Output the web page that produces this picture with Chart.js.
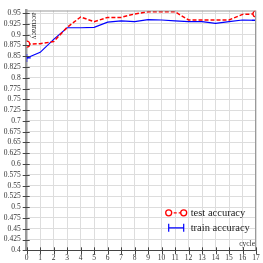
<!DOCTYPE html>
<html>
<head>
<meta charset="utf-8">
<script src="https://cdn.jsdelivr.net/npm/chart.js@4/dist/chart.umd.min.js"></script>
<style>
html, body { margin: 0; padding: 0; background: #fff; }
#wrap { width: 263px; height: 263px; }
</style>
</head>
<body>
<div id="wrap"><canvas id="graphAccuracy"></canvas></div>
<script>
const cycles = [0, 1, 2, 3, 4, 5, 6, 7, 8, 9, 10, 11, 12, 13, 14, 15, 16, 17];
const testAcc = [0.878, 0.879, 0.884, 0.917, 0.941, 0.930, 0.940, 0.940, 0.948, 0.953, 0.953, 0.953, 0.934, 0.934, 0.934, 0.934, 0.947, 0.948];
const trainAcc = [0.846, 0.859, 0.889, 0.916, 0.916, 0.917, 0.929, 0.932, 0.930, 0.935, 0.934, 0.932, 0.930, 0.930, 0.926, 0.930, 0.934, 0.933];
const yTicks = [0.4, 0.425, 0.45, 0.475, 0.5, 0.525, 0.55, 0.575, 0.6, 0.625, 0.65, 0.675, 0.7, 0.725, 0.75, 0.775, 0.8, 0.825, 0.85, 0.875, 0.9, 0.925, 0.95];
const seriesNames = ['test accuracy', 'train accuracy'];
const yTitle = 'accuracy';
const xTitle = 'cycle';

const serif = '"Liberation Serif", "DejaVu Serif", serif';

function toPoints(values) {
	return cycles.map((c, i) => ({ x: c, y: values[i] }));
}

function endsOnly(r) {
	return cycles.map((c, i) => (i == 0 || i == cycles.length - 1) ? r : 0);
}

// frame, crossing tick marks, axis titles and the legend inside the plot
const decorations = {
	id: 'decorations',
	afterDraw(chart) {
		const ctx = chart.ctx;
		const a = chart.chartArea;
		const xs = chart.scales.x;
		const ys = chart.scales.y;
		ctx.save();
		ctx.strokeStyle = '#999';
		ctx.lineWidth = 1;
		ctx.beginPath();
		ctx.moveTo(a.left, a.top + 0.5);
		ctx.lineTo(a.right - 0.5, a.top + 0.5);
		ctx.lineTo(a.right - 0.5, a.bottom);
		ctx.stroke();

		ctx.strokeStyle = '#444';
		ctx.lineWidth = 1;
		ctx.beginPath();
		for (let i = 0; i < yTicks.length; ++i) {
			const py = Math.round(ys.getPixelForValue(yTicks[i])) + 0.5;
			ctx.moveTo(a.left - 4, py);
			ctx.lineTo(a.left + 3, py);
		}
		for (let i = 0; i < cycles.length; ++i) {
			const px = Math.round(xs.getPixelForValue(cycles[i])) + 0.5;
			ctx.moveTo(px, a.bottom - 3);
			ctx.lineTo(px, a.bottom + 4);
		}
		ctx.stroke();

		ctx.fillStyle = '#333';
		ctx.font = '7.5px ' + serif;
		ctx.textAlign = 'right';
		ctx.textBaseline = 'bottom';
		ctx.fillText(xTitle, a.right - 1, a.bottom - 3);

		ctx.save();
		ctx.translate(a.left + 7, a.top + 2);
		ctx.rotate(Math.PI / 2);
		ctx.textAlign = 'left';
		ctx.textBaseline = 'middle';
		ctx.fillText(yTitle, 0, 0);
		ctx.restore();

		// legend
		const lx0 = a.left + 142, lx1 = a.left + 157;
		const rows = [a.bottom - 37.5, a.bottom - 22.5];
		ctx.font = '10.5px ' + serif;
		ctx.textAlign = 'left';
		ctx.textBaseline = 'middle';

		ctx.strokeStyle = 'red';
		ctx.lineWidth = 1.3;
		ctx.setLineDash([3, 2]);
		ctx.beginPath();
		ctx.moveTo(lx0, rows[0]);
		ctx.lineTo(lx1, rows[0]);
		ctx.stroke();
		ctx.setLineDash([]);
		ctx.fillStyle = '#fff';
		[lx0, lx1].forEach(px => {
			ctx.beginPath();
			ctx.arc(px, rows[0], 3, 0, Math.PI * 2);
			ctx.fill();
			ctx.stroke();
		});

		ctx.strokeStyle = 'blue';
		ctx.lineWidth = 1.2;
		ctx.beginPath();
		ctx.moveTo(lx0, rows[1]);
		ctx.lineTo(lx1, rows[1]);
		[lx0, lx1].forEach(px => {
			ctx.moveTo(px, rows[1] - 4);
			ctx.lineTo(px, rows[1] + 4);
		});
		ctx.stroke();

		ctx.fillStyle = '#222';
		ctx.fillText(seriesNames[0], lx1 + 7, rows[0]);
		ctx.fillText(seriesNames[1], lx1 + 7, rows[1]);
		ctx.restore();
	}
};

const chart = new Chart(document.getElementById('graphAccuracy'), {
	type: 'line',
	data: {
		datasets: [{
			label: seriesNames[0],
			data: toPoints(testAcc),
			borderColor: 'red',
			backgroundColor: '#fff',
			borderWidth: 1.5,
			borderDash: [4, 2],
			pointStyle: 'circle',
			pointRadius: endsOnly(3),
			pointBorderWidth: 1.2,
			tension: 0
		}, {
			label: seriesNames[1],
			data: toPoints(trainAcc),
			borderColor: 'blue',
			backgroundColor: 'blue',
			borderWidth: 1.2,
			pointStyle: 'cross',
			pointRadius: endsOnly(4),
			pointBorderWidth: 1.2,
			tension: 0
		}]
	},
	options: {
		responsive: true,
		maintainAspectRatio: false,
		animation: false,
		layout: { padding: { left: 0, right: 7, top: 4, bottom: 0 } },
		plugins: {
			legend: { display: false },
			tooltip: { enabled: false }
		},
		scales: {
			x: {
				type: 'linear',
				min: 0,
				max: 17,
				afterBuildTicks: (scale) => { scale.ticks = cycles.map(v => ({ value: v })); },
				afterFit: (scale) => { scale.height = 12.7; },
				ticks: {
					padding: 3,
					maxRotation: 0,
					autoSkip: false,
					color: '#333',
					font: { family: serif, size: 7.5 },
					callback: (v) => String(v)
				},
				grid: { color: '#ddd', lineWidth: 1, drawTicks: false },
				border: { color: '#444', width: 1 }
			},
			y: {
				min: 0.4,
				max: 0.956,
				afterBuildTicks: (scale) => { scale.ticks = yTicks.map(v => ({ value: v })); },
				afterFit: (scale) => { scale.width = 26.7; },
				ticks: {
					padding: 6,
					autoSkip: false,
					color: '#333',
					font: { family: serif, size: 7.5 },
					callback: (v) => String(Math.round(v * 1000) / 1000)
				},
				grid: { color: '#ddd', lineWidth: 1, drawTicks: false },
				border: { color: '#999', width: 2.5 }
			}
		}
	},
	plugins: [decorations]
});
</script>
</body>
</html>
